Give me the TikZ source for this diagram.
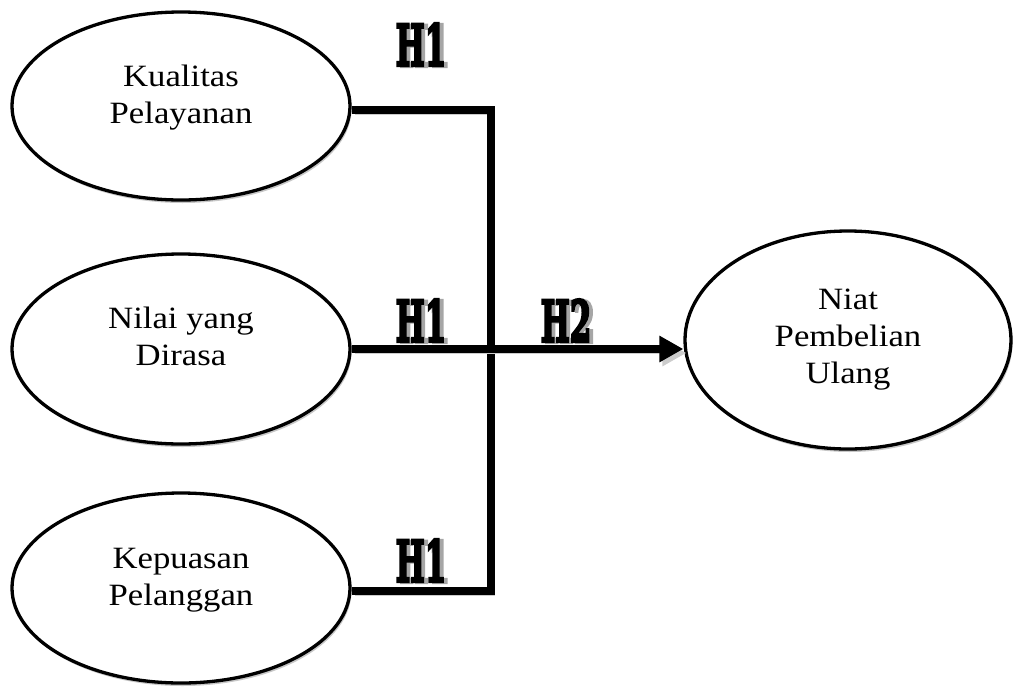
\documentclass[tikz,border=0pt]{standalone}
\usepackage{fontspec}
\setmainfont{Liberation Serif}[FakeStretch=1.12]
\newfontfamily\hfont{DejaVu Serif}[BoldFeatures={FakeBold=5}]
\usetikzlibrary{shapes.geometric,arrows.meta,shadows}
\newcommand\myhyp[1]{\scalebox{0.54}[1]{\rlap{\hspace{7pt}\raisebox{-1pt}{\color{black!35}#1}}#1}}
\begin{document}
\begin{tikzpicture}[x=1pt,y=-1pt,
  oval/.style={ellipse, draw, line width=3.3pt, fill=white, inner sep=0pt,
    drop shadow={shadow xshift=1.5pt, shadow yshift=-3pt, fill=black!22, opacity=1}},
  lbl/.style={font=\fontsize{31}{37}\selectfont, align=center, inner sep=0pt},
  hyp/.style={font=\hfont\bfseries\fontsize{57}{57}\selectfont, inner sep=0pt, text=black},
  conn/.style={line width=8pt, line join=miter,
    preaction={draw=black!20, transform canvas={xshift=3pt, yshift=-4pt}}}]
\useasboundingbox (0,0) rectangle (1015,686);

% ellipses
\node[oval, minimum width=338pt, minimum height=188pt] (kp) at (181,106) {};
\node[oval, minimum width=338pt, minimum height=190pt] (nd) at (181,349) {};
\node[oval, minimum width=338pt, minimum height=190pt] (kep) at (181,588) {};
\node[oval, minimum width=326pt, minimum height=218pt] (niat) at (848,340) {};

% texts
\node[lbl] (kpt) at (181,98) {Kualitas\\Pelayanan};
\node[lbl] (ndt) at (181,336) {Nilai yang\\Dirasa};
\node[lbl] (kept) at (181,580) {Kepuasan\\Pelanggan};
\node[lbl] (niatt) at (848,340) {Niat\\Pembelian\\Ulang};

% connectors
\coordinate (j1) at (491,110);
\coordinate (j3) at (491,591);
\draw[conn] (kp.east |- j1) -- (j1) -- (j3) -- (kep.east |- j3);
\draw[conn, -{Triangle[length=24pt,width=25pt]}] (nd.east) -- (nd.east -| niat.west);

% hypothesis labels
\node[hyp] (hA) at (421,45) {\myhyp{H1}};
\node[hyp] (hB) at (421,321) {\myhyp{H1}};
\node[hyp] (hC) at (566,321) {\myhyp{H2}};
\node[hyp] (hD) at (421,561) {\myhyp{H1}};
\end{tikzpicture}
\end{document}
